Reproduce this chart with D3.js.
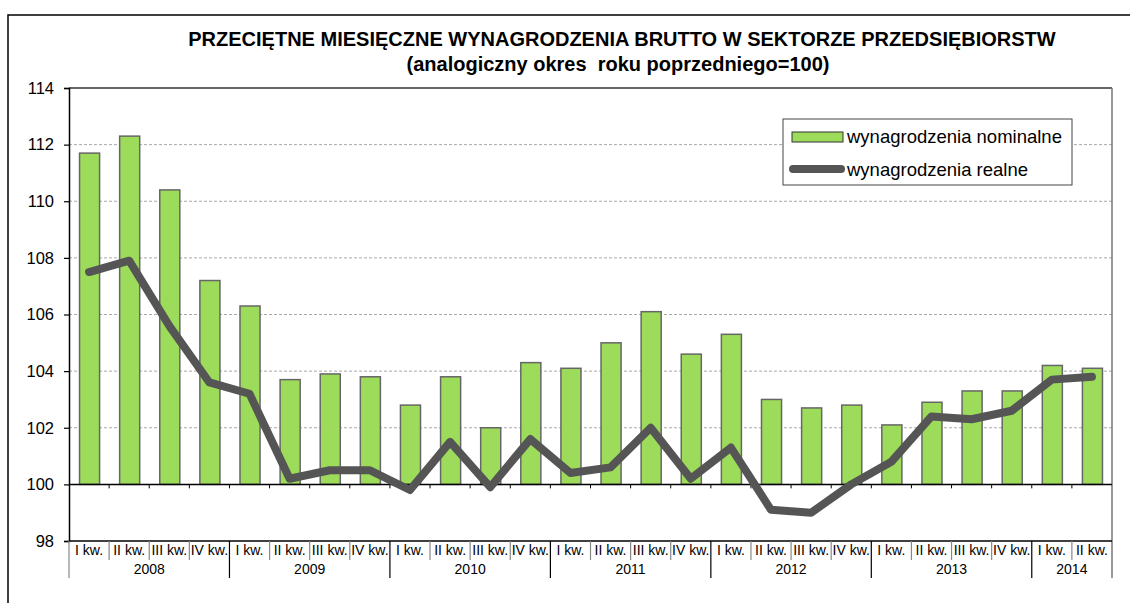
<!DOCTYPE html>
<html>
<head>
<meta charset="utf-8">
<script src="https://cdn.jsdelivr.net/npm/d3@7"></script>
<style>
    body { margin: 0; background: #fff; }
    text { font-family: "Liberation Sans", Arial, sans-serif; }
</style>
</head>
<body>
<div id="viz_div"></div>
<script>
// DATA
// ---------------------------------------------------------------------------------------------------------------------------------
const quarters = ["I kw.", "II kw.", "III kw.", "IV kw."];
const years = ["2008", "2009", "2010", "2011", "2012", "2013", "2014"];
const quartersPerYear = [4, 4, 4, 4, 4, 4, 2];
const nominal = [111.7, 112.3, 110.4, 107.2, 106.3, 103.7, 103.9, 103.8, 102.8, 103.8, 102.0, 104.3,
    104.1, 105.0, 106.1, 104.6, 105.3, 103.0, 102.7, 102.8, 102.1, 102.9, 103.3, 103.3, 104.2, 104.1];
const real = [107.5, 107.9, 105.6, 103.6, 103.2, 100.2, 100.5, 100.5, 99.8, 101.5, 99.9, 101.6,
    100.4, 100.6, 102.0, 100.2, 101.3, 99.1, 99.0, 100.0, 100.8, 102.4, 102.3, 102.6, 103.7, 103.8];
const yTicks = [98, 100, 102, 104, 106, 108, 110, 112, 114];
const seriesNames = ["wynagrodzenia nominalne", "wynagrodzenia realne"];
const title = "PRZECIĘTNE MIESIĘCZNE WYNAGRODZENIA BRUTTO W SEKTORZE PRZEDSIĘBIORSTW";
const subtitle = "(analogiczny okres  roku poprzedniego=100)";

function init_chart() {
    const width = 1130, height = 603;
    const plot = { left: 69, right: 1112, top: 88, bottom: 541 };

    // category labels for every bar, built from the quarters / years lists
    var cats = [];
    years.forEach(function (yr, i) {
        for (var q = 0; q < quartersPerYear[i]; q++) cats.push({ year: yr, q: quarters[q] });
    });
    const idx = cats.map(function (d, i) { return i; });

    const x = d3.scaleBand().domain(idx).range([plot.left, plot.right]).paddingInner(0).paddingOuter(0);
    const y = d3.scaleLinear([98, 114], [plot.bottom, plot.top]);

    const svg = d3.select("#viz_div")
        .append("svg")
        .attr("width", width)
        .attr("height", height);

    // OUTER FRAME
    // ---------------------------------------------------------------------------------------------------------------------------------
    svg.append("rect")
        .attr("x", 8).attr("y", 15)
        .attr("width", 1200).attr("height", 700)
        .attr("fill", "none")
        .attr("stroke", "#000")
        .attr("stroke-width", 1.5);

    // TITLE
    // ---------------------------------------------------------------------------------------------------------------------------------
    svg.append("text")
        .attr("x", 622).attr("y", 46)
        .attr("text-anchor", "middle")
        .style("font-size", "20px")
        .style("font-weight", "bold")
        .text(title);

    svg.append("text")
        .attr("x", 618).attr("y", 71)
        .attr("text-anchor", "middle")
        .style("font-size", "20px")
        .style("font-weight", "bold")
        .style("white-space", "pre")
        .text(subtitle);

    // GRIDLINES
    // ---------------------------------------------------------------------------------------------------------------------------------
    svg.append("g")
        .selectAll("line")
        .data(yTicks.filter(function (t) { return t > 100 && t < 114; }))
        .enter()
        .append("line")
        .attr("x1", plot.left).attr("x2", plot.right)
        .attr("y1", function (d) { return y(d); })
        .attr("y2", function (d) { return y(d); })
        .attr("stroke", "#a8a8a8")
        .attr("stroke-width", 1)
        .attr("stroke-dasharray", "3,2");

    // plot border top / right
    svg.append("line")
        .attr("x1", plot.left).attr("x2", plot.right)
        .attr("y1", y(114)).attr("y2", y(114))
        .attr("stroke", "#333").attr("stroke-width", 1.5);
    svg.append("line")
        .attr("x1", plot.right).attr("x2", plot.right)
        .attr("y1", y(114)).attr("y2", plot.bottom + 37)
        .attr("stroke", "#777").attr("stroke-width", 1.5);

    // BARS (NOMINAL)
    // ---------------------------------------------------------------------------------------------------------------------------------
    const bw = x.bandwidth() * 0.5;
    svg.append("g")
        .selectAll("rect")
        .data(nominal)
        .enter()
        .append("rect")
        .attr("x", function (d, i) { return x(i) + (x.bandwidth() - bw) / 2 + 0.5; })
        .attr("y", function (d) { return y(d); })
        .attr("width", bw)
        .attr("height", function (d) { return y(100) - y(d); })
        .attr("fill", "#9ddc5a")
        .attr("stroke", "#666")
        .attr("stroke-width", 1.5);

    // AXES
    // ---------------------------------------------------------------------------------------------------------------------------------
    const yAxis = svg.append("g")
        .attr("transform", `translate(${plot.left},0)`)
        .call(d3.axisLeft(y).tickValues(yTicks).tickSize(5).tickPadding(10).tickFormat(d3.format("d")));
    yAxis.select(".domain").attr("stroke", "#000").attr("stroke-width", 1.5);
    yAxis.selectAll(".tick line").attr("stroke", "#000").attr("stroke-width", 1.2);
    yAxis.selectAll(".tick text")
        .style("font-size", "16.5px")
        .style("font-family", "'Liberation Sans', Arial, sans-serif")
        .attr("fill", "#000");

    // 100 baseline with small ticks at category boundaries
    svg.append("line")
        .attr("x1", plot.left).attr("x2", plot.right)
        .attr("y1", y(100)).attr("y2", y(100))
        .attr("stroke", "#000").attr("stroke-width", 1.5);
    svg.append("g")
        .selectAll("line")
        .data(idx.slice(1))
        .enter()
        .append("line")
        .attr("x1", function (d) { return x(d); })
        .attr("x2", function (d) { return x(d); })
        .attr("y1", y(100)).attr("y2", y(100) + 4)
        .attr("stroke", "#000").attr("stroke-width", 1);

    // bottom category axis (98)
    svg.append("line")
        .attr("x1", plot.left).attr("x2", plot.right)
        .attr("y1", plot.bottom).attr("y2", plot.bottom)
        .attr("stroke", "#000").attr("stroke-width", 1.5);

    // quarter separators
    svg.append("g")
        .selectAll("line")
        .data(idx.slice(1))
        .enter()
        .append("line")
        .attr("x1", function (d) { return x(d); })
        .attr("x2", function (d) { return x(d); })
        .attr("y1", plot.bottom)
        .attr("y2", function (d) { return cats[d].q === quarters[0] ? plot.bottom + 37 : plot.bottom + 19; })
        .attr("stroke", function (d) { return cats[d].q === quarters[0] ? "#000" : "#888"; })
        .attr("stroke-width", 1.2);
    svg.append("line")
        .attr("x1", plot.left).attr("x2", plot.left)
        .attr("y1", plot.bottom).attr("y2", plot.bottom + 37)
        .attr("stroke", "#888").attr("stroke-width", 1.2);

    // quarter labels
    svg.append("g")
        .selectAll("text")
        .data(cats)
        .enter()
        .append("text")
        .attr("x", function (d, i) { return x(i) + x.bandwidth() / 2; })
        .attr("y", plot.bottom + 14)
        .attr("text-anchor", "middle")
        .style("font-size", "14px")
        .text(function (d) { return d.q; });

    // year labels
    var start = 0;
    var yearPos = years.map(function (yr, i) {
        var p = { year: yr, from: start, to: start + quartersPerYear[i] - 1 };
        start += quartersPerYear[i];
        return p;
    });
    svg.append("g")
        .selectAll("text")
        .data(yearPos)
        .enter()
        .append("text")
        .attr("x", function (d) { return (x(d.from) + x(d.to) + x.bandwidth()) / 2; })
        .attr("y", plot.bottom + 33)
        .attr("text-anchor", "middle")
        .style("font-size", "14px")
        .text(function (d) { return d.year; });

    // LINE (REAL)
    // ---------------------------------------------------------------------------------------------------------------------------------
    svg.append("path")
        .datum(real)
        .attr("fill", "none")
        .attr("stroke", "#555")
        .attr("stroke-width", 8)
        .attr("stroke-linejoin", "round")
        .attr("stroke-linecap", "round")
        .attr("d", d3.line()
            .x(function (d, i) { return x(i) + x.bandwidth() / 2; })
            .y(function (d) { return y(d); })
        );

    // LEGEND
    // ---------------------------------------------------------------------------------------------------------------------------------
    const lg = svg.append("g");
    lg.append("rect")
        .attr("x", 783).attr("y", 119)
        .attr("width", 289).attr("height", 66)
        .attr("fill", "#fff")
        .attr("stroke", "#444").attr("stroke-width", 1);
    lg.append("rect")
        .attr("x", 792).attr("y", 132)
        .attr("width", 51).attr("height", 10)
        .attr("fill", "#9ddc5a")
        .attr("stroke", "#333").attr("stroke-width", 1);
    lg.append("line")
        .attr("x1", 793).attr("x2", 841)
        .attr("y1", 169).attr("y2", 169)
        .attr("stroke", "#555").attr("stroke-width", 8)
        .attr("stroke-linecap", "round");
    lg.selectAll("text")
        .data(seriesNames)
        .enter()
        .append("text")
        .attr("x", 847)
        .attr("y", function (d, i) { return 143 + i * 33; })
        .style("font-size", "18.5px")
        .text(function (d) { return d; });
}

init_chart();
</script>
</body>
</html>
